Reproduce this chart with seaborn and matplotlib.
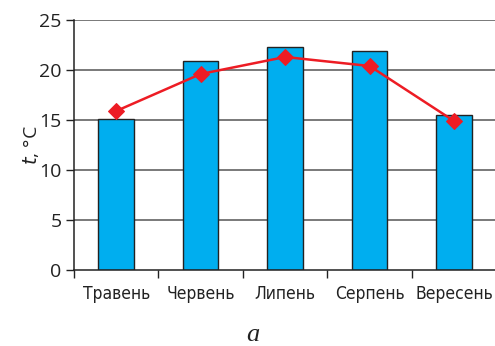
import matplotlib
matplotlib.use("Agg")
import matplotlib.pyplot as plt
import seaborn as sns
import pandas as pd
import numpy as np
from matplotlib.ticker import FixedLocator
from matplotlib import font_manager as fm

months = ["Травень", "Червень", "Липень", "Серпень", "Вересень"]
bar_values = [15.1, 20.9, 22.3, 21.9, 15.5]
line_values = [15.9, 19.6, 21.3, 20.4, 14.9]
y_ticks = [0, 5, 10, 15, 20, 25]

sns.set_style("white")
plt.rcParams["font.family"] = ["DejaVu Sans"]

# pick a condensed face if available
cond_file = None
for f in fm.fontManager.ttflist:
    if f.name == "DejaVu Sans" and f.stretch in ("condensed", "semi-condensed", 500, 400) and "Condensed" in f.fname and f.style == "normal" and f.weight in (400, "normal"):
        cond_file = f.fname
        break
if cond_file is None:
    for f in fm.fontManager.ttflist:
        if "Narrow" in f.fname or "Condensed" in f.fname:
            if "Bold" not in f.fname and "Oblique" not in f.fname and "Italic" not in f.fname:
                cond_file = f.fname
                break

df = pd.DataFrame({"month": months, "bar": bar_values, "line": line_values})

fig = plt.figure(figsize=(4.95, 3.46), dpi=100)
ax = fig.add_axes([0.1495, 0.2197, 0.853, 0.7225])

ax.set_axisbelow(True)
for yv in y_ticks[1:]:
    ax.axhline(yv, color="#555555", lw=1.1, zorder=0)

sns.barplot(data=df, x="month", y="bar", color="#00AEEF", width=0.42,
            edgecolor="#222222", linewidth=1.0, saturation=1, ax=ax, zorder=2)
sns.lineplot(data=df, x="month", y="line", color="#ED1C24", lw=1.8,
             marker="D", markersize=8, markeredgecolor="#ED1C24", ax=ax, zorder=3, sort=False)

ax.set_xlim(-0.5, 4.5)
ax.set_ylim(0, 25)
ax.set_yticks(y_ticks)
ax.xaxis.set_minor_locator(FixedLocator(np.arange(-0.5, 5.0, 1.0)))
ax.tick_params(axis="x", which="major", length=0, pad=11)
ax.tick_params(axis="x", which="minor", length=6, width=1, color="#222222", direction="out", bottom=True)
ax.tick_params(axis="y", length=6, width=1, color="#222222", direction="out", left=True, pad=3)

for lbl in ax.get_xticklabels():
    if cond_file:
        lbl.set_fontproperties(fm.FontProperties(fname=cond_file, size=12.5))
    else:
        lbl.set_fontfamily(["DejaVu Sans"])
        lbl.set_fontsize(10.5)
    lbl.set_color("#222222")
for lbl in ax.get_yticklabels():
    lbl.set_fontfamily(["Open Sans", "DejaVu Sans"])
    lbl.set_fontsize(14)
    lbl.set_color("#222222")

ax.set_xlabel("")
ax.set_ylabel("")
for s in ["top", "right"]:
    ax.spines[s].set_visible(False)
for s in ["left", "bottom"]:
    ax.spines[s].set_color("#222222")
    ax.spines[s].set_linewidth(1.1)

fig.text(0.062, 0.58, r"$t$, °C", rotation=90, ha="center", va="center",
         fontsize=14, color="#222222", family=["Open Sans", "DejaVu Sans"])
fig.text(0.511, 0.0, "a", ha="center", va="bottom", fontsize=19,
         style="italic", color="#222222", family=["Liberation Serif", "DejaVu Serif"])

fig.savefig("out.png", dpi=100)
